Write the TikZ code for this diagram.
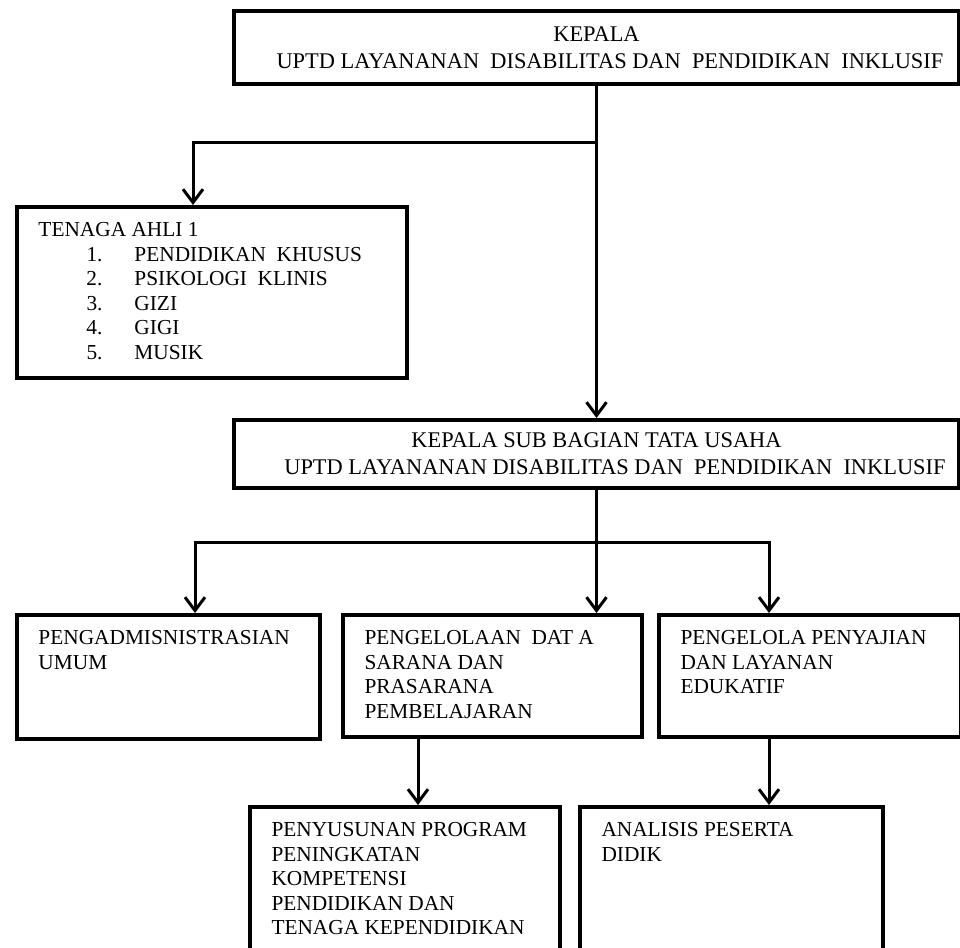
\documentclass[tikz,border=0pt]{standalone}
\usepackage{fontspec}
\setmainfont{Liberation Serif}
\usepackage{tikz}
\usetikzlibrary{arrows.meta}
\newcommand{\nomor}[1]{\hspace*{36pt}\makebox[36pt][l]{#1}}

\tikzset{
	kotak/.style={draw, line width=3pt, anchor=north west, inner sep=0pt},
	judul/.style={kotak, minimum width=543.75pt, align=center, font=\fontsize{16.8}{20}\selectfont},
	isi/.style={anchor=north west, align=left, inner sep=0pt, xshift=16.5pt, yshift=-12pt}
}

\begin{document}
\begin{tikzpicture}[x=0.75pt, y=-0.75pt, line width=2.25pt,
		>={Straight Barb[length=10pt,width=15pt]},
		font=\fontsize{16}{18.4}\selectfont]
			\clip (0,0) rectangle (960,947);
			\node[judul, minimum height=54.75pt] (Kepala) at (232,9)
				{KEPALA\\\hspace*{20.25pt}UPTD LAYANANAN\ \ DISABILITAS DAN\ \ PENDIDIKAN\ \ INKLUSIF};
			\node[kotak, minimum width=292.5pt, minimum height=128.25pt,
				label={[isi]north west:{TENAGA AHLI 1\\
					\nomor{1.}PENDIDIKAN\ \ KHUSUS\\
					\nomor{2.}PSIKOLOGI\ \ KLINIS\\
					\nomor{3.}GIZI\\
					\nomor{4.}GIGI\\
					\nomor{5.}MUSIK}}] (Ahli) at (15,205) {};
			\node[judul, minimum height=51pt] (Kasubag) at (232,418)
				{KEPALA SUB BAGIAN TATA USAHA\\\hspace*{27.75pt}UPTD LAYANANAN DISABILITAS DAN\ \ PENDIDIKAN\ \ INKLUSIF};
			\node[kotak, minimum width=227.25pt, minimum height=93pt,
				label={[isi]north west:{PENGADMISNISTRASIAN\\UMUM}}] (Umum) at (15,613) {};
			\node[kotak, minimum width=224.25pt, minimum height=91.5pt,
				label={[isi]north west:{PENGELOLAAN\ \ DAT A\\SARANA DAN\\PRASARANA\\PEMBELAJARAN}}] (Sarana) at (341,613) {};
			\node[kotak, minimum width=226.5pt, minimum height=91.5pt,
				label={[isi]north west:{PENGELOLA PENYAJIAN\\DAN LAYANAN\\EDUKATIF}}] (Edukatif) at (657,613) {};
			\node[kotak, minimum width=232.5pt, minimum height=150pt,
				label={[isi]north west:{PENYUSUNAN PROGRAM\\PENINGKATAN\\KOMPETENSI\\PENDIDIKAN DAN\\TENAGA KEPENDIDIKAN}}] (Program) at (248,805) {};
			\node[kotak, minimum width=227.25pt, minimum height=150pt,
				label={[isi]north west:{ANALISIS PESERTA\\DIDIK}}] (Analisis) at (578,805) {};
			\coordinate (Cabang1) at (Kepala.south |- 0,142);
			\coordinate (Cabang2) at (Kasubag.south |- 0,542);
			\draw[->] (Kepala) -- (Kasubag);
			\draw[->] (Cabang1) -| ([xshift=133.5pt]Ahli.north west);
			\draw[->] (Kasubag) -- (Kasubag.south |- Sarana.north);
			\draw[->] (Cabang2) -| ([xshift=135pt]Umum.north west);
			\draw[->] (Cabang2) -| ([xshift=84pt]Edukatif.north west);
			\draw[->] ([xshift=57.75pt]Sarana.south west) -- ([xshift=57.75pt]Sarana.south west |- Program.north);
			\draw[->] ([xshift=84pt]Edukatif.south west) -- ([xshift=84pt]Edukatif.south west |- Analisis.north);
		\end{tikzpicture}
\end{document}
